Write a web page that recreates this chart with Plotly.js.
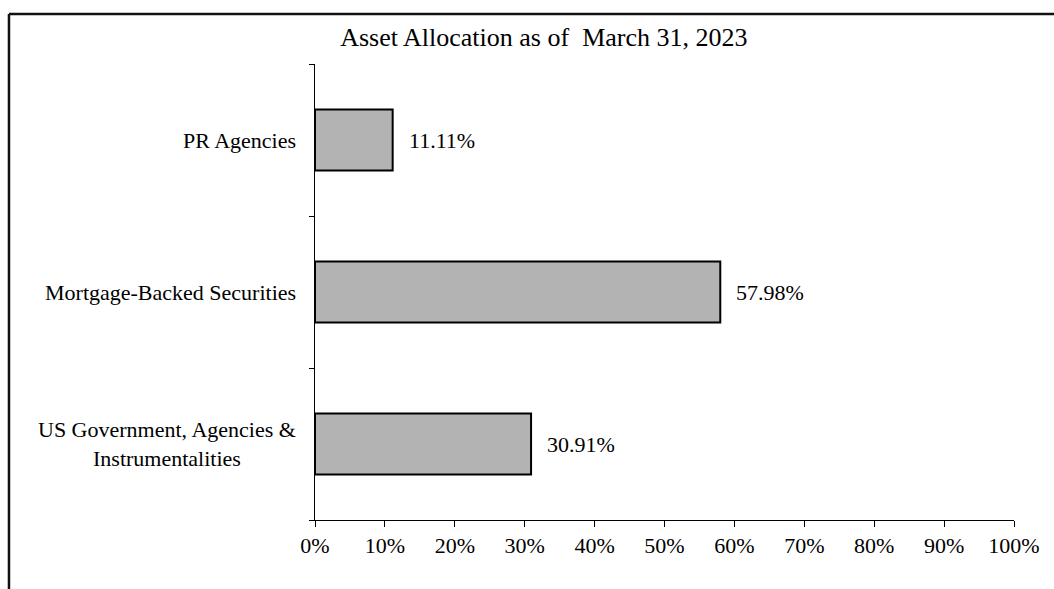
<!DOCTYPE html>
<html>
<head>
<meta charset="utf-8">
<script src="https://cdn.plot.ly/plotly-3.0.1.min.js"></script>
<style>
  html, body { margin: 0; padding: 0; background: #fff; }
  #chart { width: 1054px; height: 589px; }
</style>
</head>
<body>
<div id="chart"></div>
<script>
const categories = ["US Government, Agencies & Instrumentalities", "Mortgage-Backed Securities", "PR Agencies"];
const categoryLabels = ["US Government, Agencies &<br>Instrumentalities", "Mortgage-Backed Securities", "PR Agencies"];
const values = [0.3091, 0.5798, 0.1111];
const valueLabels = ["30.91%", "57.98%", "11.11%"];
const xTickValues = [0, 0.1, 0.2, 0.3, 0.4, 0.5, 0.6, 0.7, 0.8, 0.9, 1.0];
const xTickLabels = ["0%", "10%", "20%", "30%", "40%", "50%", "60%", "70%", "80%", "90%", "100%"];
const titleText = "Asset Allocation as of&nbsp; March 31, 2023";

const font = "Liberation Serif";

const trace = {
  type: "bar",
  orientation: "h",
  y: categories,
  x: values,
  width: 0.4,
  marker: { color: "#b3b3b3", line: { color: "#000000", width: 2 } },
  hoverinfo: "skip"
};

const annotations = [];
categories.forEach((c, i) => {
  annotations.push({
    xref: "x", yref: "y", x: values[i], y: c,
    text: valueLabels[i], showarrow: false,
    xanchor: "left", yanchor: "middle", xshift: 14,
    font: { family: font, size: 22, color: "#000" }
  });
  annotations.push({
    xref: "paper", yref: "y", x: 0, y: c,
    text: categoryLabels[i], showarrow: false,
    xanchor: "right", yanchor: "middle", xshift: -17, align: "center",
    font: { family: font, size: 22, color: "#000" }
  });
});

const layout = {
  width: 1054, height: 589,
  margin: { l: 315, r: 40, t: 64, b: 69 },
  paper_bgcolor: "#ffffff", plot_bgcolor: "#ffffff",
  showlegend: false,
  font: { family: font, size: 22, color: "#000" },
  title: {
    text: titleText, x: 0.516, xref: "container", xanchor: "center",
    y: 1 - 37/589, yref: "container", yanchor: "middle",
    font: { family: font, size: 26, color: "#000" }
  },
  xaxis: {
    range: [0, 1], tickvals: xTickValues, ticktext: xTickLabels,
    ticks: "outside", ticklen: 6, tickwidth: 1, tickcolor: "#000",
    showline: true, linecolor: "#000", linewidth: 1,
    showgrid: false, zeroline: false, fixedrange: true,
    tickfont: { family: font, size: 22, color: "#000" }
  },
  yaxis: {
    type: "category", range: [-0.5, 2.5],
    tickson: "boundaries", ticks: "outside", ticklen: 5, tickwidth: 1, tickcolor: "#000",
    showticklabels: false,
    showline: true, linecolor: "#000", linewidth: 1,
    showgrid: false, zeroline: false, fixedrange: true
  },
  annotations: annotations,
  shapes: [
    { type: "line", xref: "paper", yref: "paper", x0: -0.4378, x1: 1.2, y0: 1.1096, y1: 1.1096, line: { color: "#111", width: 2.5 } },
    { type: "line", xref: "paper", yref: "paper", x0: -0.4378, x1: -0.4378, y0: 1.1096, y1: -0.3, line: { color: "#111", width: 2.5 } }
  ]
};

Plotly.newPlot("chart", [trace], layout, { displayModeBar: false, staticPlot: true });
</script>
</body>
</html>
